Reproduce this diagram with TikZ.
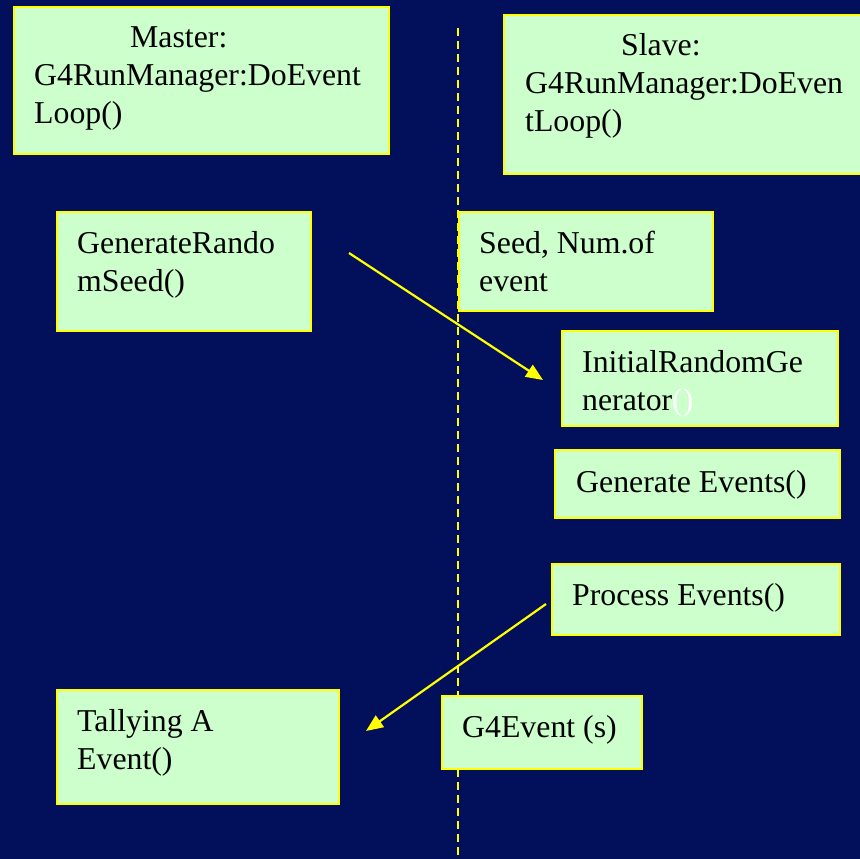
\documentclass[tikz,border=0pt]{standalone}
\usepackage{fontspec}
\setmainfont{Liberation Serif}
\newfontfamily\tnr{Liberation Serif}
\usetikzlibrary{arrows.meta}
\definecolor{navybg}{RGB}{2,16,92}
\definecolor{boxgreen}{RGB}{204,255,204}
\definecolor{ylw}{RGB}{255,255,0}
\newcommand{\mylines}[1]{\begin{tabular}[t]{@{}l@{}}#1\end{tabular}}
\begin{document}
\begin{tikzpicture}[x=1pt,y=-1pt,
  box/.style={draw=ylw, fill=boxgreen, line width=2pt, rectangle, inner sep=0pt, anchor=north west},
  txt/.style={anchor=base west, inner sep=0pt, font=\tnr\fontsize{31.8}{38}\selectfont, text=black},
  flow/.style={draw=ylw, line width=2.2pt, -{Triangle[length=17pt,width=14pt]}},
  lifeline/.style={draw=ylw, line width=2pt, dash pattern=on 8pt off 5pt}]
\useasboundingbox (0,0) rectangle (860,859);
\clip (0,0) rectangle (860,859);
\fill[navybg] (0,0) rectangle (860,859);
% lifeline
\coordinate (ltop) at (458,28);
\coordinate (lbot) at (458,859);
\draw[lifeline] (ltop) -- (lbot);
% boxes
\node[box, minimum width=375pt, minimum height=147pt] (master) at (13,6) {};
\node[box, minimum width=400pt, minimum height=159pt] (slave) at (503,14) {};
\node[box, minimum width=254pt, minimum height=119pt] (grs) at (56,211) {};
\node[box, minimum width=254pt, minimum height=99pt] (seed) at (458,211) {};
\node[box, minimum width=276pt, minimum height=95pt] (irg) at (561,330) {};
\node[box, minimum width=285pt, minimum height=68pt] (ge) at (554,449) {};
\node[box, minimum width=288pt, minimum height=71pt] (pe) at (551,563) {};
\node[box, minimum width=282pt, minimum height=114pt] (tally) at (56,689) {};
\node[box, minimum width=200pt, minimum height=73pt] (g4e) at (441,695) {};
% texts
\node[txt] (mtitle) at (130,48) {Master:};
\node[txt] (mtext) at (34,86) {\mylines{G4RunManager:DoEvent\\Loop()}};
\node[txt] (stitle) at (621,56) {Slave:};
\node[txt] (stext) at (525,94) {\mylines{G4RunManager:DoEven\\tLoop()}};
\node[txt] (grstext) at (77,253) {\mylines{GenerateRando\\mSeed()}};
\node[txt] (seedtext) at (479,253) {\mylines{Seed, Num.of\\event}};
\node[txt] (irgtext) at (582,372) {\mylines{InitialRandomGe\\nerator\textcolor{white}{()}}};
\node[txt] (getext) at (576,492) {Generate Events()};
\node[txt] (petext) at (572,605) {Process Events()};
\node[txt] (tallytext) at (77,731) {\mylines{Tallying A\\Event()}};
\node[txt] (g4etext) at (462,737) {G4Event (s)};
% arrows
\coordinate (a1s) at (349,253);
\coordinate (a1e) at (543,380);
\coordinate (a2s) at (546,604);
\coordinate (a2e) at (366,731);
\draw[flow] (a1s) -- (a1e);
\draw[flow] (a2s) -- (a2e);
\end{tikzpicture}
\end{document}
